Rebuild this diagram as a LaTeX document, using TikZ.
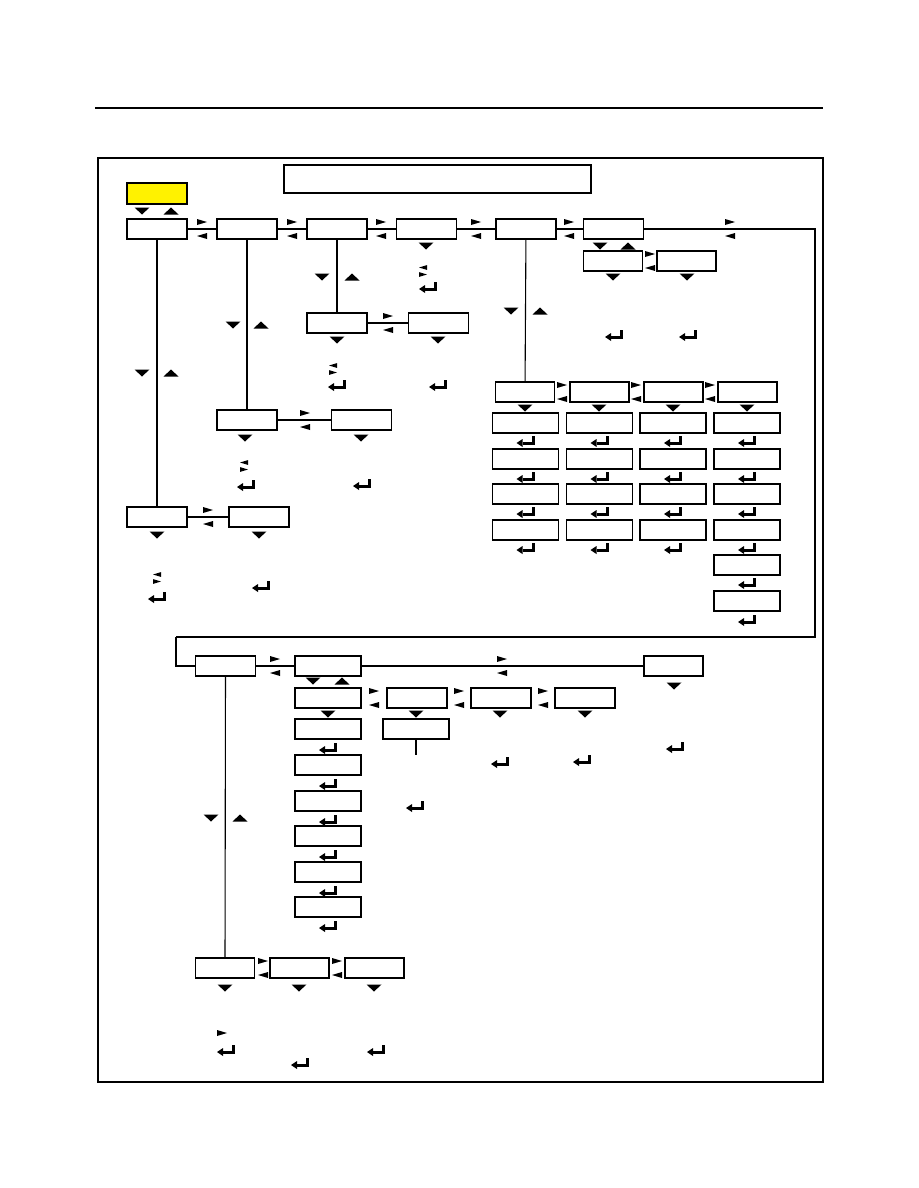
\documentclass[tikz,border=0pt]{standalone}
\usepackage{tikz}
\usetikzlibrary{positioning}
\definecolor{menuyellow}{HTML}{FFF200}

\begin{document}
\begin{tikzpicture}[x=1pt,y=-1pt,
  box/.style={draw,line width=1.2pt,minimum width=60pt,minimum height=20pt,inner sep=0pt},
  wbox/.style={box,minimum width=66pt},
  link/.style={line width=1.1pt},
  pics/tdn/.style={code={\fill (-7.5,-3.5) -- (7.5,-3.5) -- (0,3.5) -- cycle;}},
  pics/tup/.style={code={\fill (-7.5,3.5) -- (7.5,3.5) -- (0,-3.5) -- cycle;}},
  pics/trt/.style={code={\fill (-5,-3) -- (5,0) -- (-5,3) -- cycle;}},
  pics/tlt/.style={code={\fill (5,-3) -- (-5,0) -- (5,3) -- cycle;}},
  pics/swap/.style={code={\pic at (0,-7) {trt}; \pic at (0,7) {tlt};}},
  pics/lr/.style={code={\pic[scale=0.8] at (0,-3.5) {tlt}; \pic[scale=0.8] at (0,3.5) {trt};}},
  pics/ent/.style={code={\fill (9,-5) rectangle (6,3.5);
    \fill (9,3.5) rectangle (-3,0.5);
    \fill (-3,-2) -- (-3,6) -- (-9,2) -- cycle;}}]
\useasboundingbox (0,0) rectangle (918,1188);
\draw[line width=2pt] (95,108) -- (823,108);
\draw[line width=2.5pt] (98,158) rectangle (823,1082);
\node[draw,line width=1.6pt,minimum width=307pt,minimum height=28pt,inner sep=0pt] (title) at (437.5,179) {};
\node[box,fill=menuyellow,minimum height=21pt] (home) at (157,193.5) {};
\pic at (142,211) {tdn}; \pic at (171,211) {tup};

\node[box] (m1) at (157,229) {};
\node[box] (m2) at (247,229) {};
\node[box] (m3) at (337,229) {};
\node[box] (m4) at (426.5,229) {};
\node[box] (m5) at (526,229) {};
\node[box] (m6) at (613.5,229) {};
\coordinate (turnA) at (815,229);
\coordinate (turnB) at (815,637);
\coordinate (turnC) at (176,637);
\draw[link] (m1) -- (m2) -- (m3) -- (m4) -- (m5) -- (m6) -- (turnA) -- (turnB) -- (turnC);
\foreach \sx in {202,292,381,476,569,730} \pic at (\sx,229) {swap};

\node[box] (m1a) at (157,517) {};
\node[box] (m1b) at (259,517) {};
\node[box] (m2a) at (247,420) {};
\node[box] (m2b) at (361.5,420) {};
\node[box] (m3a) at (337,323) {};
\node[box] (m3b) at (438.5,323) {};
\draw[link] (m1) -- (m1a) -- (m1b);
\draw[link] (m2) -- (m2a) -- (m2b);
\draw[link] (m3) -- (m3a) -- (m3b);
\pic at (142,373) {tdn}; \pic at (171,373) {tup};
\pic at (233,325) {tdn}; \pic at (261,325) {tup};
\pic at (322,277) {tdn}; \pic at (352,277) {tup};
\pic at (426,246) {tdn};
\pic at (423,271) {lr}; \pic at (428,287) {ent};
\pic at (388,323) {swap};
\pic at (337,340) {tdn}; \pic at (438,340) {tdn};
\pic at (333,369) {lr}; \pic at (337,385) {ent}; \pic at (438,385) {ent};
\pic at (305,420) {swap};
\pic at (245,438) {tdn}; \pic at (361,438) {tdn};
\pic at (244,466) {lr}; \pic at (246,485) {ent}; \pic at (362,484) {ent};
\pic at (208,517) {swap};
\pic at (157,535) {tdn}; \pic at (259,535) {tdn};
\pic at (157,578) {lr}; \pic at (157,597) {ent}; \pic at (261,586) {ent};

\node[box,minimum width=59pt] (m6a) at (613,261) {};
\node[box,minimum width=59pt] (m6b) at (686.5,261) {};
\pic at (600,246) {tdn}; \pic at (628,246) {tup};
\pic at (650,261) {swap};
\pic at (613,277) {tdn}; \pic at (687,277) {tdn};

\node[box,minimum width=59pt] (s1) at (525,392) {};
\node[box,minimum width=59pt] (s2) at (599.5,392) {};
\node[box,minimum width=59pt] (s3) at (673.5,392) {};
\node[box,minimum width=59pt] (s4) at (747.5,392) {};
\draw[link] (m5) -- (s1);
\pic at (511,311) {tdn}; \pic at (540,311) {tup};
\pic at (614,335) {ent}; \pic at (688,335) {ent};
\foreach \sx in {562,636,710} \pic at (\sx,392) {swap};
\foreach \sx in {525,599,673,747} \pic at (\sx,408) {tdn};
\foreach \cx [count=\c] in {525.5,599.5,673,747} {
  \foreach \cy [count=\r] in {423,459,494,530} {
    \node[wbox] (g\c\r) at (\cx,\cy) {};
    \pic at (\cx,\cy+18) {ent};
  }
}
\node[wbox] (g45) at (747,565) {};
\node[wbox] (g46) at (747,601) {};
\pic at (747,583) {ent}; \pic at (747,620) {ent};

\node[box] (n1) at (225.5,666) {};
\node[wbox] (n2) at (328,666) {};
\node[box,minimum width=59pt] (n3) at (673.5,666) {};
\draw[link] (turnC) |- (n1.west);
\draw[link] (n1) -- (n2) -- (n3);
\pic at (275,666) {swap}; \pic at (502,666) {swap};
\pic at (674,686) {tdn};
\pic at (313,681) {tdn}; \pic at (342,681) {tup};

\node[wbox] (p1) at (328,698) {};
\node[box] (p2) at (417,698) {};
\node[box] (p3) at (501,698) {};
\node[box] (p4) at (585,698) {};
\node[wbox] (p2a) at (416,729) {};
\coordinate (p2tail) at (416,755);
\draw[link] (p2a) -- (p2tail);
\foreach \sx in {374,459,543} \pic at (\sx,698) {swap};
\foreach \sx in {328,416,500,585} \pic at (\sx,714) {tdn};
\foreach \cy [count=\r] in {729,765,801,836,872,907} {
  \node[wbox] (c\r) at (328,\cy) {};
  \pic at (328,\cy+19) {ent};
}
\pic at (415,806) {ent}; \pic at (500,762) {ent};
\pic at (582,760) {ent}; \pic at (675,747) {ent};

\node[box,minimum width=59pt] (q1) at (225,968) {};
\node[box,minimum width=59pt] (q2) at (299.5,968) {};
\node[box,minimum width=59pt] (q3) at (374.5,968) {};
\draw[link] (n1) -- (q1);
\pic at (211,818) {tdn}; \pic at (240,818) {tup};
\pic at (263,968) {swap}; \pic at (337,968) {swap};
\foreach \sx in {225,299,374} \pic at (\sx,988) {tdn};
\pic at (222,1033) {trt};
\pic at (226,1050) {ent}; \pic at (376,1050) {ent}; \pic at (300,1063) {ent};
\end{tikzpicture}
\end{document}
